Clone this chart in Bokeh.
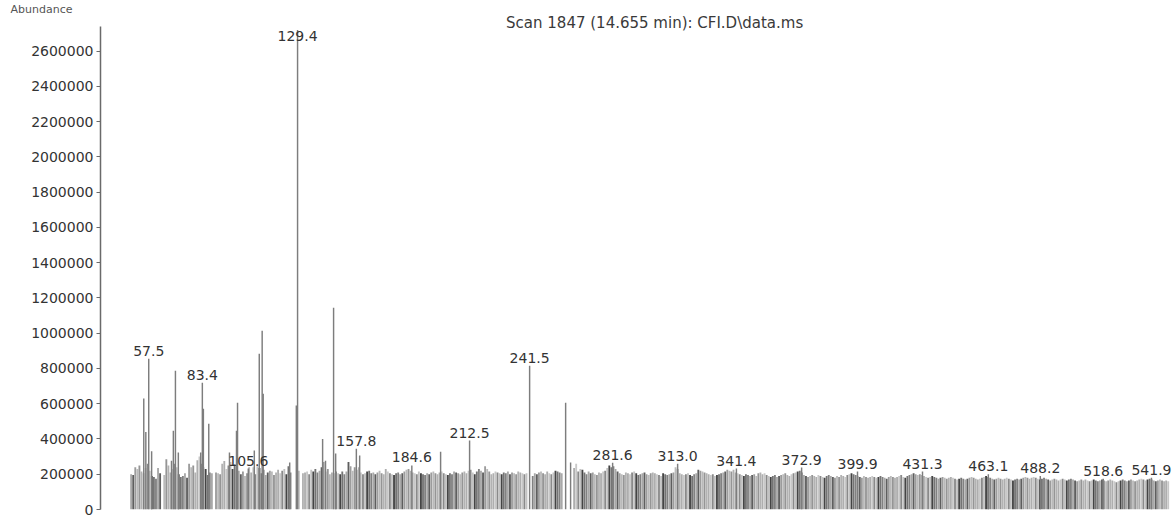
from bokeh.plotting import figure
from bokeh.models import (ColumnDataSource, LabelSet, Label, FixedTicker,
                          NumeralTickFormatter, Range1d, Title)
from bokeh.core.properties import value
from bokeh.embed import file_html
from bokeh.resources import INLINE

# ---------------- data ----------------
title_text = "Scan 1847 (14.655 min): CFI.D\\data.ms"
y_axis_title = "Abundance"
y_tick_values = [0, 200000, 400000, 600000, 800000, 1000000, 1200000, 1400000,
                 1600000, 1800000, 2000000, 2200000, 2400000, 2600000]

# baseline ion abundances (thousands), one per integer m/z starting at 49
base_start_mz = 49
base_k = [
    200, 195, 240, 230, 250, 215, 205, 235, 260, 220,   # 49-58
    190, 185, 175, 235, 205, 0, 195, 285, 250, 210,     # 59-68
    230, 260, 240, 200, 185, 190, 205, 180, 260, 240,   # 69-78
    250, 210, 280, 300, 260, 240, 230, 195, 210, 205,   # 79-88
    0, 210, 205, 200, 260, 275, 230, 250, 270, 230,     # 89-98
    255, 240, 220, 200, 215, 190, 205, 240, 210, 240,   # 99-108
    200, 245, 235, 205, 225, 195, 210, 220, 215, 195,   # 109-118
    210, 225, 205, 220, 230, 200, 245, 210, 0, 0,       # 119-128
    0, 220, 0, 205, 210, 215, 200, 225, 215, 230,       # 129-138
    210, 220, 240, 270, 215, 230, 200, 210, 205, 215,   # 139-148
    205, 200, 215, 200, 215, 270, 245, 220, 240, 225,   # 149-158
    240, 210, 200, 205, 215, 220, 205, 210, 200, 210,   # 159-168
    220, 205, 200, 230, 215, 205, 200, 195, 205, 210,   # 169-178
    200, 205, 215, 225, 230, 220, 210, 205, 200, 215,   # 179-188
    205, 200, 195, 205, 200, 210, 215, 205, 200, 210,   # 189-198
    215, 205, 200, 195, 205, 200, 215, 210, 205, 200,   # 199-208
    210, 215, 205, 220, 225, 210, 200, 215, 230, 220,   # 209-218
    210, 245, 230, 215, 200, 205, 215, 210, 205, 200,   # 219-228
    210, 205, 215, 200, 210, 205, 200, 215, 210, 205,   # 229-238
    200, 205, 0, 0, 190, 205, 200, 210, 215, 205,       # 239-248
    200, 215, 205, 200, 210, 220, 215, 210, 205, 0,     # 249-258
    0, 0, 0, 0, 235, 260, 215, 230, 225, 210,           # 259-268
    200, 215, 205, 210, 200, 195, 210, 205, 215, 220,   # 269-278
    235, 250, 240, 245, 230, 215, 205, 200, 195, 210,   # 279-288
    205, 200, 210, 215, 205, 195, 200, 205, 210, 200,   # 289-298
    195, 205, 210, 205, 200, 195, 190, 205, 200, 195,   # 299-308
    200, 205, 210, 240, 230, 205, 200, 195, 200, 205,   # 309-318
    195, 190, 200, 205, 225, 220, 215, 210, 205, 200,   # 319-328
    195, 200, 190, 195, 200, 205, 210, 215, 225, 220,   # 329-338
    215, 225, 210, 205, 200, 195, 190, 200, 195, 190,   # 339-348
    195, 200, 190, 205, 210, 200, 205, 195, 190, 185,   # 349-358
    190, 195, 185, 190, 195, 200, 205, 195, 190, 200,   # 359-368
    205, 210, 215, 220, 210, 195, 190, 185, 190, 195,   # 369-378
    190, 185, 195, 190, 185, 180, 190, 195, 190, 185,   # 379-388
    180, 190, 185, 195, 190, 185, 195, 200, 205, 200,   # 389-398
    195, 190, 185, 180, 190, 185, 180, 185, 190, 185,   # 399-408
    180, 185, 190, 185, 180, 175, 185, 190, 185, 180,   # 409-418
    185, 190, 195, 185, 180, 190, 195, 200, 205, 200,   # 419-428
    195, 200, 195, 190, 185, 180, 185, 190, 185, 180,   # 429-438
    175, 180, 185, 180, 175, 180, 185, 180, 175, 170,   # 439-448
    175, 180, 175, 170, 175, 180, 185, 180, 175, 170,   # 449-458
    175, 180, 185, 190, 185, 180, 175, 170, 175, 180,   # 459-468
    175, 170, 175, 180, 175, 170, 165, 170, 175, 170,   # 469-478
    175, 180, 185, 180, 175, 180, 185, 180, 175, 170,   # 479-488
    175, 180, 175, 170, 165, 170, 175, 170, 165, 170,   # 489-498
    175, 170, 165, 170, 175, 170, 165, 160, 165, 170,   # 499-508
    165, 170, 165, 160, 165, 170, 165, 160, 165, 170,   # 509-518
    165, 160, 165, 170, 165, 160, 155, 160, 165, 170,   # 519-528
    165, 160, 165, 170, 165, 160, 165, 170, 175, 170,   # 529-538
    165, 170, 175, 170, 165, 160, 165, 170, 165, 160,   # 539-548
    165, 160,                                           # 549-550
]

# prominent ions: m/z and abundance (thousands)
peak_mz = [55.1, 56.1, 57.5, 58.9, 68.5, 69.4, 70.4, 71.8, 82.6, 83.4, 83.9,
           86.5, 96.5, 99.9, 100.4, 105.6, 108.5, 110.9, 112.3, 112.8, 125.6,
           128.8, 129.4, 141.5, 142.9, 146.8, 147.8, 157.8, 159.4, 184.6,
           198.5, 212.5, 241.5, 258.9, 261.3, 281.6, 313.0, 341.4, 372.9,
           399.9, 431.3, 463.1, 488.2, 518.6, 541.9]
peak_k = [630, 440, 855, 330, 277, 447, 787, 323, 323, 719, 572,
          487, 323, 447, 606, 232, 334, 884, 1014, 657, 266,
          590, 2720, 400, 277, 1144, 317, 345, 306, 250,
          328, 391, 815, 606, 266, 265, 260, 232, 238,
          215, 215, 200, 190, 175, 180]

# annotated m/z values
label_mz = [57.5, 83.4, 105.6, 129.4, 157.8, 184.6, 212.5, 241.5, 281.6,
            313.0, 341.4, 372.9, 399.9, 431.3, 463.1, 488.2, 518.6, 541.9]

# ---------------- build sources ----------------
greys = ["#a8a8a8", "#8a8a8a", "#bababa", "#747474", "#aeaeae", "#5e5e5e",
         "#c2c2c2", "#959595", "#818181", "#c8c8c8", "#9c9c9c", "#444444", "#b2b2b2"]

b_mz, b_val, b_col = [], [], []
for i, v in enumerate(base_k):
    if v <= 0:
        continue
    b_mz.append(base_start_mz + i)
    b_val.append(v * 1000)
    b_col.append(greys[(i * 5) % len(greys)])
base_src = ColumnDataSource(dict(x=b_mz, top=b_val, color=b_col))

peak_src = ColumnDataSource(dict(x=peak_mz, top=[v * 1000 for v in peak_k]))

AXIS_TOP = 2740000
Y_MAX = 2802273
lab_y = []
for m in label_mz:
    v = peak_k[peak_mz.index(m)] * 1000
    lab_y.append(min(v, 2640000))
lab_src = ColumnDataSource(dict(x=label_mz, y=lab_y,
                                text=["%.1f" % m for m in label_mz]))

# ---------------- figure ----------------
p = figure(width=1176, height=526, output_backend="svg", toolbar_location=None,
           x_range=Range1d(34.2, 554.0), y_range=Range1d(0, Y_MAX),
           x_axis_location=None, min_border_left=100, min_border_right=0,
           min_border_top=14, min_border_bottom=17)
p.outline_line_color = None
p.grid.visible = False
p.background_fill_color = "white"
p.border_fill_color = "white"

p.vbar(x="x", top="top", width=0.9, bottom=0, source=base_src,
       fill_color="color", line_color=None)
p.vbar(x="x", top="top", width=0.7, bottom=0, source=peak_src,
       fill_color="#7d7d7d", line_color=None)

ax = p.yaxis[0]
ax.bounds = (0, AXIS_TOP)
ax.ticker = FixedTicker(ticks=y_tick_values)
ax.formatter = NumeralTickFormatter(format="0")
ax.axis_line_color = "#6a6a6a"
ax.axis_line_width = 1.5
ax.major_tick_line_color = "#6a6a6a"
ax.major_tick_out = 4
ax.major_tick_in = 0
ax.minor_tick_line_color = None
ax.major_label_text_font = "DejaVu Sans"
ax.major_label_text_font_size = "14px"
ax.major_label_text_color = "#333333"
ax.major_label_standoff = 3

labels = LabelSet(x="x", y="y", text="text", source=lab_src,
                  text_align="center", text_baseline="bottom", y_offset=3,
                  text_font=value("DejaVu Sans"), text_font_size="14px",
                  text_color="#333333")
p.add_layout(labels)

p.add_layout(Label(x=301.9, y=2757000, text=title_text, text_align="center",
                   text_baseline="middle", text_font="DejaVu Sans",
                   text_font_size="15px", text_color="#3a3a3a"))

ab = Title(text=y_axis_title, align="left", offset=-90, standoff=0,
           text_font="DejaVu Sans", text_font_size="11px",
           text_font_style="normal", text_color="#555555")
p.add_layout(ab, "above")

open("out.html", "w").write(file_html(p, INLINE))
